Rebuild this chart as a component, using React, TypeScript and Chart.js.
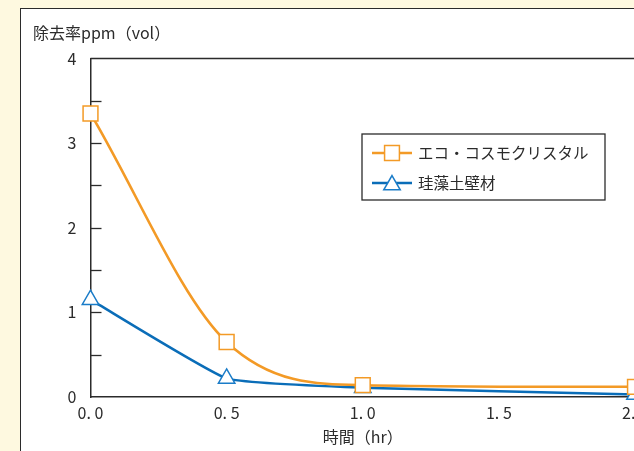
import React, { useEffect, useRef } from "react";
import { Chart, registerables } from "chart.js";

Chart.register(...registerables);

const timesHr = [0, 0.5, 1.0, 2.0];
const ecoCosmoValues = [3.35, 0.65, 0.14, 0.12];
const diatomValues = [1.15, 0.22, 0.11, 0.03];
const seriesNames = ["エコ・コスモクリスタル", "珪藻土壁材"];
const yAxisTitle = "除去率ppm（vol）";
const xAxisTitle = "時間（hr）";
const yMinorTicks = [0.5, 1, 1.5, 2, 2.5, 3, 3.5];

const ORANGE = "#f39a26";
const BLUE = "#0a6db8";
const INK = "#2b2b2b";
const FONT = '"Noto Sans CJK JP", "Noto Sans", sans-serif';

const decorPlugin = {
  id: "decor",
  afterDraw(chart: any) {
    const { ctx, chartArea, scales } = chart;
    const ys = scales.y;
    ctx.save();
    // top border
    ctx.strokeStyle = INK;
    ctx.lineWidth = 1.5;
    ctx.beginPath();
    ctx.moveTo(chartArea.left, chartArea.top);
    ctx.lineTo(chartArea.right + 40, chartArea.top);
    ctx.stroke();
    // inner ticks on y axis
    ctx.lineWidth = 1.3;
    yMinorTicks.forEach((v) => {
      const py = Math.round(ys.getPixelForValue(v)) + 0.5;
      ctx.beginPath();
      ctx.moveTo(chartArea.left, py);
      ctx.lineTo(chartArea.left + 11, py);
      ctx.stroke();
    });
    // axis titles
    ctx.fillStyle = INK;
    ctx.font = `16px ${FONT}`;
    ctx.textBaseline = "middle";
    ctx.textAlign = "left";
    ctx.fillText(yAxisTitle, 33, 33);
    ctx.textAlign = "center";
    const xs = scales.x;
    ctx.fillText(xAxisTitle, xs.getPixelForValue(1.0), 437);

    // legend box
    const bx = 362, by = 134, bw = 243, bh = 66;
    ctx.fillStyle = "#ffffff";
    ctx.fillRect(bx, by, bw, bh);
    ctx.strokeStyle = INK;
    ctx.lineWidth = 1.3;
    ctx.strokeRect(bx, by, bw, bh);
    const rows = [
      { y: 153, color: ORANGE, mark: ORANGE, style: "rect", r: 10.5, name: seriesNames[0] },
      { y: 183, color: BLUE, mark: "#1a7cc8", style: "triangle", r: 9.5, name: seriesNames[1] },
    ];
    rows.forEach((row) => {
      ctx.strokeStyle = row.color;
      ctx.lineWidth = 2.5;
      ctx.beginPath();
      ctx.moveTo(372, row.y);
      ctx.lineTo(412, row.y);
      ctx.stroke();
      ctx.fillStyle = "#ffffff";
      ctx.strokeStyle = row.mark;
      ctx.lineWidth = 1.5;
      ctx.beginPath();
      if (row.style === "rect") {
        const s = row.r * Math.SQRT1_2;
        ctx.rect(392 - s, row.y - s, 2 * s, 2 * s);
      } else {
        const r = row.r;
        const cx = 392, cy = row.y + 2;
        ctx.moveTo(cx, cy - r);
        ctx.lineTo(cx + Math.sin((2 * Math.PI) / 3) * r, cy + r / 2);
        ctx.lineTo(cx - Math.sin((2 * Math.PI) / 3) * r, cy + r / 2);
        ctx.closePath();
      }
      ctx.fill();
      ctx.stroke();
      ctx.fillStyle = INK;
      ctx.font = `15.5px ${FONT}`;
      ctx.textAlign = "left";
      ctx.textBaseline = "middle";
      ctx.fillText(row.name, 418, row.y);
    });
    ctx.restore();
  },
};

export default function App() {
  const canvasRef = useRef<HTMLCanvasElement | null>(null);

  useEffect(() => {
    const canvas = canvasRef.current;
    if (!canvas) return;
    const chart = new Chart(canvas, {
      type: "line",
      data: {
        datasets: [
          {
            label: seriesNames[0],
            data: timesHr.map((t, i) => ({ x: t, y: ecoCosmoValues[i] })),
            borderColor: ORANGE,
            backgroundColor: "#ffffff",
            borderWidth: 2.5,
            pointStyle: "rect",
            pointRadius: 10.5,
            pointBorderWidth: 1.5,
            pointBackgroundColor: "#ffffff",
            pointBorderColor: ORANGE,
            cubicInterpolationMode: "monotone",
            clip: false as any,
          },
          {
            label: seriesNames[1],
            data: timesHr.map((t, i) => ({ x: t, y: diatomValues[i] })),
            borderColor: BLUE,
            backgroundColor: "#ffffff",
            borderWidth: 2.5,
            pointStyle: "triangle",
            pointRadius: 9.5,
            pointBorderWidth: 1.5,
            pointBackgroundColor: "#ffffff",
            pointBorderColor: "#1a7cc8",
            tension: 0.12,
            clip: false as any,
          },
        ],
      },
      options: {
        animation: false,
        responsive: false,
        devicePixelRatio: 1,
        layout: { padding: { top: 58.5, right: 65, left: 0, bottom: 0 } },
        plugins: {
          legend: { display: false },
          tooltip: { enabled: false },
          title: { display: false },
        },
        scales: {
          x: {
            type: "linear",
            min: 0,
            max: 2,
            afterFit: (s: any) => {
              s.height = 54;
            },
            grid: { display: false, drawTicks: false },
            border: { display: true, color: INK, width: 1.5 },
            ticks: {
              stepSize: 0.5,
              padding: 6,
              color: INK,
              font: { family: FONT, size: 16 },
              callback: (v: any) => Number(v).toFixed(1).replace(".", ". "),
            },
          },
          y: {
            min: 0,
            max: 4,
            afterFit: (s: any) => {
              s.width = 90.5;
            },
            grid: { display: false, drawTicks: false },
            border: { display: true, color: INK, width: 1.5 },
            ticks: {
              stepSize: 1,
              padding: 14,
              color: INK,
              font: { family: FONT, size: 16 },
            },
          },
        },
      },
      plugins: [decorPlugin],
    });
    return () => chart.destroy();
  }, []);

  return (
    <div
      style={{
        position: "fixed",
        left: 0,
        top: 0,
        width: 634,
        height: 451,
        overflow: "hidden",
        background: "#fef9e0",
      }}
    >
      <div
        style={{
          position: "absolute",
          left: 20,
          top: 8,
          width: 800,
          height: 600,
          background: "#ffffff",
          border: "1.5px solid #2b2b2b",
        }}
      />
      <canvas
        ref={canvasRef}
        width={700}
        height={451}
        style={{ position: "absolute", left: 0, top: 0, width: 700, height: 451 }}
      />
    </div>
  );
}
